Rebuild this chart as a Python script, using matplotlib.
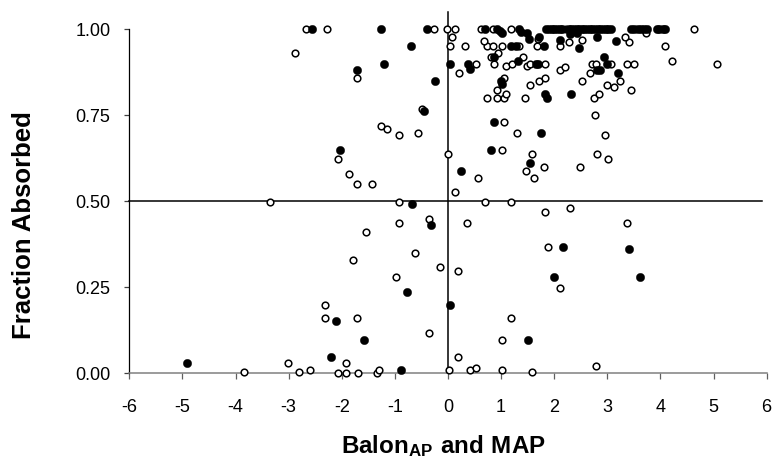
import matplotlib
matplotlib.use("Agg")
import matplotlib.pyplot as plt

plt.rcParams['font.family'] = ['Liberation Sans', 'DejaVu Sans']
plt.rcParams['mathtext.fontset'] = 'custom'
plt.rcParams['mathtext.rm'] = 'Liberation Sans'
plt.rcParams['mathtext.bf'] = 'Liberation Sans:bold'

# Solid markers
filled_x = [-2.56, -1.26, -0.39, -0.70, -1.20, -1.72, -0.24, -0.46, -2.04, -0.67,
            -0.32, -0.77, -2.10, -1.58, -2.21, -4.91, -0.88,
            2.17, 3.40, 2.00, 3.62, 0.04, 1.50,
            0.25, 1.55, 0.81, 1.76, 0.87, 1.86, 1.83, 2.32, 0.99, 1.01, 3.20, 2.80,
            2.86, 0.04, 0.37, 0.42, 1.66, 1.70, 3.00, 2.94, 0.87, 1.31, 1.19, 1.28,
            1.80, 2.46, 2.11, 3.16, 2.81, 1.72, 1.53, 1.48, 1.38, 1.02, 0.97, 2.30,
            2.42,
            0.70, 0.92, 1.34,
            1.85, 1.90, 1.95, 2.00, 2.05, 2.10, 2.15, 2.27, 2.32, 2.37, 2.42, 2.47,
            2.52, 2.57, 2.62, 2.67, 2.72, 2.77, 2.82, 2.87, 2.92, 2.97, 3.02, 3.07,
            3.45, 3.51, 3.57, 3.63, 3.69, 3.74,
            3.93, 3.98, 4.04, 4.09]
filled_y = [1.00, 1.00, 1.00, 0.952, 0.898, 0.882, 0.850, 0.763, 0.649, 0.492,
            0.432, 0.237, 0.151, 0.097, 0.048, 0.031, 0.010,
            0.367, 0.361, 0.280, 0.280, 0.200, 0.097,
            0.589, 0.610, 0.649, 0.698, 0.731, 0.800, 0.812, 0.812, 0.850, 0.841, 0.872, 0.882,
            0.882, 0.898, 0.898, 0.884, 0.898, 0.898, 0.900, 0.920, 0.920, 0.909, 0.952, 0.952,
            0.952, 0.946, 0.969, 0.967, 0.979, 0.979, 0.971, 0.988, 0.993, 0.988, 0.996, 0.985,
            0.990,
            1.00, 1.00, 1.00,
            1.00, 1.00, 1.00, 1.00, 1.00, 1.00, 1.00, 1.00, 1.00, 1.00, 1.00, 1.00,
            1.00, 1.00, 1.00, 1.00, 1.00, 1.00, 1.00, 1.00, 1.00, 1.00, 1.00, 1.00,
            1.00, 1.00, 1.00, 1.00, 1.00, 1.00,
            1.00, 1.00, 1.00, 1.00]

# Hollow markers
open_x = [-2.67, -2.28, -0.27, -2.88, -1.72, -0.49, -1.26, -1.15, -0.92, -0.56,
          -2.08, -1.86, -1.72, -1.44, -3.36, -0.92, -0.92, -0.35, -1.54, -0.63,
          -1.79, -0.15, -0.98, -2.31, -2.31, -1.72, -0.35, -3.02, -3.85, -2.80,
          -2.60, -2.08, -1.92, -1.92, -1.69, -1.34, -1.29,
          0.13, 0.70, 1.19, 1.83, 2.29, 0.35, 3.37, 1.89, 0.18, 2.11,
          1.19, 1.02, 0.18, 2.78, 0.01, 0.42, 0.53, 1.02, 1.58,
          0.56, 1.61, 1.47, 1.80, 2.49, 3.02, 0.00, 1.58, 2.80, 1.02,
          1.30, 2.95, 1.06, 2.77, 0.74, 0.92, 1.06, 1.45, 2.74, 1.09,
          2.85, 0.92, 3.44, 3.13, 1.55, 2.99, 1.72, 2.53, 3.24, 1.06,
          1.83, 0.21, 2.68, 2.11, 2.21, 1.09, 1.48, 0.53, 0.87, 1.20,
          1.55, 1.83, 2.72, 2.78, 3.06, 3.37, 3.51, 5.06, 1.41, 0.81,
          0.95, 4.21, 0.04, 0.32, 0.73, 0.85, 1.02, 1.34, 1.67, 2.11,
          4.08, 0.67, 2.53, 2.28, 3.41, 3.33, 0.08, 1.70, 3.73,
          -0.01, 0.13, 0.62, 0.85, 1.19, 2.22, 4.63]
open_y = [1.00, 1.00, 1.00, 0.930, 0.859, 0.768, 0.719, 0.709, 0.692, 0.698,
          0.622, 0.578, 0.551, 0.551, 0.497, 0.497, 0.438, 0.449, 0.411, 0.351,
          0.329, 0.308, 0.281, 0.200, 0.162, 0.162, 0.118, 0.031, 0.005, 0.005,
          0.010, 0.000, 0.000, 0.031, 0.000, 0.000, 0.010,
          0.528, 0.497, 0.497, 0.470, 0.481, 0.438, 0.438, 0.367, 0.296, 0.248,
          0.162, 0.097, 0.048, 0.021, 0.010, 0.010, 0.015, 0.010, 0.004,
          0.569, 0.569, 0.589, 0.601, 0.601, 0.622, 0.638, 0.638, 0.638, 0.649,
          0.698, 0.692, 0.731, 0.751, 0.800, 0.800, 0.800, 0.800, 0.800, 0.812,
          0.812, 0.823, 0.823, 0.832, 0.838, 0.838, 0.850, 0.850, 0.850, 0.859,
          0.859, 0.872, 0.872, 0.882, 0.891, 0.893, 0.893, 0.898, 0.898, 0.898,
          0.898, 0.898, 0.898, 0.898, 0.898, 0.898, 0.898, 0.898, 0.920, 0.920,
          0.932, 0.909, 0.952, 0.952, 0.952, 0.952, 0.952, 0.952, 0.952, 0.952,
          0.952, 0.967, 0.969, 0.962, 0.962, 0.979, 0.979, 0.971, 0.990,
          1.00, 1.00, 1.00, 1.00, 1.00, 1.00, 1.00]

x_ticks = [-6, -5, -4, -3, -2, -1, 0, 1, 2, 3, 4, 5, 6]
y_ticks = [0.0, 0.25, 0.5, 0.75, 1.0]

fig = plt.figure(figsize=(7.73, 4.69), dpi=100)
ax = fig.add_axes([0.1673, 0.204, 0.8245, 0.7335])

ax.plot(open_x, open_y, linestyle='none', marker='o', markersize=4.8,
        markerfacecolor='white', markeredgecolor='black', markeredgewidth=1.1,
        zorder=3, clip_on=False)
ax.plot(filled_x, filled_y, linestyle='none', marker='o', markersize=6.0,
        markerfacecolor='black', markeredgecolor='black', markeredgewidth=0.3,
        zorder=4, clip_on=False)

# Reference lines at 0.5 absorbed and x = 0
ax.plot([-6, 5.92], [0.5, 0.5], color='black', linewidth=1.1, zorder=2, clip_on=False)
ax.plot([0, 0], [0, 1.05], color='black', linewidth=1.1, zorder=2, clip_on=False)

ax.set_xlim(-6, 6)
ax.set_ylim(0, 1)
ax.set_xticks(x_ticks)
ax.set_xticklabels([str(t) for t in x_ticks])
ax.set_yticks(y_ticks)
ax.set_yticklabels([f"{t:.2f}" for t in y_ticks])

for side in ('top', 'right'):
    ax.spines[side].set_visible(False)
ax.spines['left'].set_color('black')
ax.spines['left'].set_linewidth(0.9)
ax.spines['bottom'].set_color('#808080')
ax.spines['bottom'].set_linewidth(1.1)

ax.tick_params(axis='x', direction='out', length=4.5, width=0.9, color='#606060',
               labelsize=13, pad=14)
ax.tick_params(axis='y', direction='out', length=3.5, width=0.9, color='#404040',
               labelsize=13, pad=10)

fig.text(24.5 / 773, 1 - 225.5 / 469, 'Fraction Absorbed', rotation=90,
         ha='center', va='center', fontsize=18.5, fontweight='bold')
fig.text(443 / 773, 1 - 446 / 469, r'$\mathbf{Balon_{AP}\ and\ MAP}$',
         ha='center', va='center', fontsize=17.4)

fig.savefig('out.png', dpi=100)
